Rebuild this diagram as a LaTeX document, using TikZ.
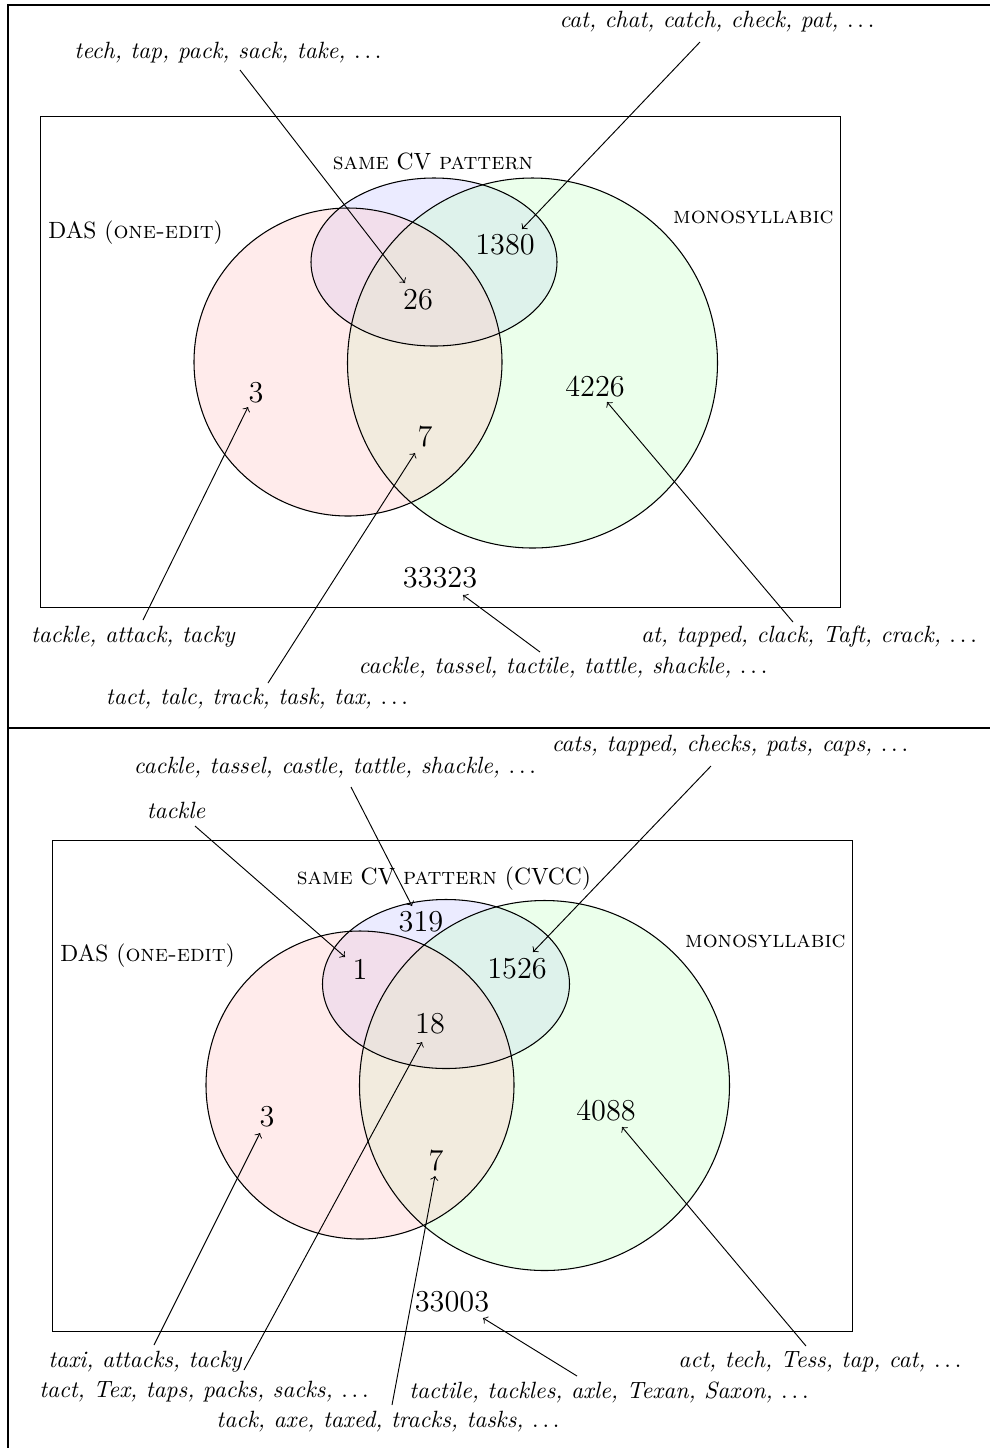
\documentclass[tikz,border=0pt]{standalone}
\begin{document}
\begin{tikzpicture}[x=0.425pt,y=-0.425pt,
  lbl/.style={font=\itshape, inner sep=0pt},
  num/.style={font=\fontsize{12.9}{15}\selectfont, inner sep=0pt},
  setlabel/.style={inner sep=0pt},
  ann/.style={->, line width=0.4pt},
  setline/.style={draw=black, line width=0.45pt},
  pinkset/.style={fill=red!20, fill opacity=0.4},
  blueset/.style={fill=blue!20, fill opacity=0.4},
  greenset/.style={fill=green!20, fill opacity=0.4},
  frame/.style={line width=0.5pt},
  box/.style={draw, line width=0.4pt}]
\useasboundingbox (0,0) rectangle (990,1448);

% table rules
\coordinate (ftl) at (8,5);
\coordinate (ftr) at (990,5);
\coordinate (fbl) at (8,1448);
\coordinate (fml) at (8,728);
\coordinate (fmr) at (990,728);
\draw[frame] (ftr) -- (ftl) -- (fbl);
\draw[frame] (fml) -- (fmr);

% ================= TOP PANEL =================
\node[box, minimum width=800*0.425pt, minimum height=491*0.425pt, inner sep=0pt] (rectA) at (440,361.5) {};
\fill[blueset] (434,262) circle[x radius=123, y radius=84];
\fill[greenset] (532.5,363) circle[radius=185];
\fill[pinkset] (348,362) circle[radius=154];
\draw[setline] (348,362) circle[radius=154];
\draw[setline] (434,262) circle[x radius=123, y radius=84];
\draw[setline] (532.5,363) circle[radius=185];

\node[setlabel] (cvA) at (433,161) {\textsc{same} CV \textsc{pattern}};
\node[setlabel, anchor=west] (dasA) at (48,233) {DAS (\textsc{one-edit})};
\node[setlabel, anchor=east] (monoA) at (834,217) {\textsc{monosyllabic}};

\node[num] (nA1) at (505,245) {1380};
\node[num] (nA2) at (418,300) {26};
\node[num] (nA3) at (256,393) {3};
\node[num] (nA4) at (425,437) {7};
\node[num] (nA5) at (595,387) {4226};
\node[num] (nA6) at (440,578) {33323};

\node[lbl] (tA1) at (228,53) {tech, tap, pack, sack, take, $\ldots$};
\node[lbl] (tA2) at (717,22) {cat, chat, catch, check, pat, $\ldots$};
\node[lbl] (tA3) at (133,637) {tackle, attack, tacky};
\node[lbl] (tA4) at (257,699) {tact, talc, track, task, tax, $\ldots$};
\node[lbl] (tA5) at (563,668) {cackle, tassel, tactile, tattle, shackle, $\ldots$};
\node[lbl] (tA6) at (809,637) {at, tapped, clack, Taft, crack, $\ldots$};

\coordinate (sA1) at (240,70);  \coordinate (eA1) at (405,283);
\coordinate (sA2) at (700,42);  \coordinate (eA2) at (522,229);
\coordinate (sA3) at (143,620); \coordinate (eA3) at (248,407);
\coordinate (sA4) at (268,683); \coordinate (eA4) at (415,453);
\coordinate (sA5) at (540,652); \coordinate (eA5) at (463,595);
\coordinate (sA6) at (793,622); \coordinate (eA6) at (607,402);
\foreach \i in {1,...,6} {\draw[ann] (sA\i) -- (eA\i);}

% ================= BOTTOM PANEL =================
\node[box, minimum width=800*0.425pt, minimum height=491*0.425pt, inner sep=0pt] (rectB) at (452,1085.5) {};
\fill[blueset] (446,984) circle[x radius=123.5, y radius=84.5];
\fill[greenset] (544.5,1085.5) circle[radius=185];
\fill[pinkset] (360,1085) circle[radius=154];
\draw[setline] (360,1085) circle[radius=154];
\draw[setline] (446,984) circle[x radius=123.5, y radius=84.5];
\draw[setline] (544.5,1085.5) circle[radius=185];

\node[setlabel] (cvB) at (444,879) {\textsc{same} CV \textsc{pattern} (CVCC)};
\node[setlabel, anchor=west] (dasB) at (60,956) {DAS (\textsc{one-edit})};
\node[setlabel, anchor=east] (monoB) at (846,941) {\textsc{monosyllabic}};

\node[num] (nB1) at (421,922) {319};
\node[num] (nB2) at (360,969) {1};
\node[num] (nB3) at (517,969) {1526};
\node[num] (nB4) at (430,1024) {18};
\node[num] (nB5) at (267,1117) {3};
\node[num] (nB6) at (436,1161) {7};
\node[num] (nB7) at (606,1111) {4088};
\node[num] (nB8) at (452,1302) {33003};

\node[lbl] (tB1) at (730,746) {cats, tapped, checks, pats, caps, $\ldots$};
\node[lbl] (tB2) at (335,768) {cackle, tassel, castle, tattle, shackle, $\ldots$};
\node[lbl] (tB3) at (176,810) {tackle};
\node[lbl] (tB4) at (145,1362) {taxi, attacks, tacky};
\node[lbl] (tB5) at (204,1392) {tact, Tex, taps, packs, sacks, $\ldots$};
\node[lbl] (tB6) at (388,1422) {tack, axe, taxed, tracks, tasks, $\ldots$};
\node[lbl] (tB7) at (609,1392) {tactile, tackles, axle, Texan, Saxon, $\ldots$};
\node[lbl] (tB8) at (820,1362) {act, tech, Tess, tap, cat, $\ldots$};

\coordinate (sB1) at (711,766);  \coordinate (eB1) at (533,952);
\coordinate (sB2) at (351,787);  \coordinate (eB2) at (412,906);
\coordinate (sB3) at (195,826);  \coordinate (eB3) at (345,957);
\coordinate (sB4) at (154,1345); \coordinate (eB4) at (260,1133);
\coordinate (sB5) at (244,1370); \coordinate (eB5) at (422,1042);
\coordinate (sB6) at (392,1405); \coordinate (eB6) at (435,1176);
\coordinate (sB7) at (577,1376); \coordinate (eB7) at (483,1318);
\coordinate (sB8) at (806,1346); \coordinate (eB8) at (622,1127);
\foreach \i in {1,...,8} {\draw[ann] (sB\i) -- (eB\i);}
\end{tikzpicture}
\end{document}
